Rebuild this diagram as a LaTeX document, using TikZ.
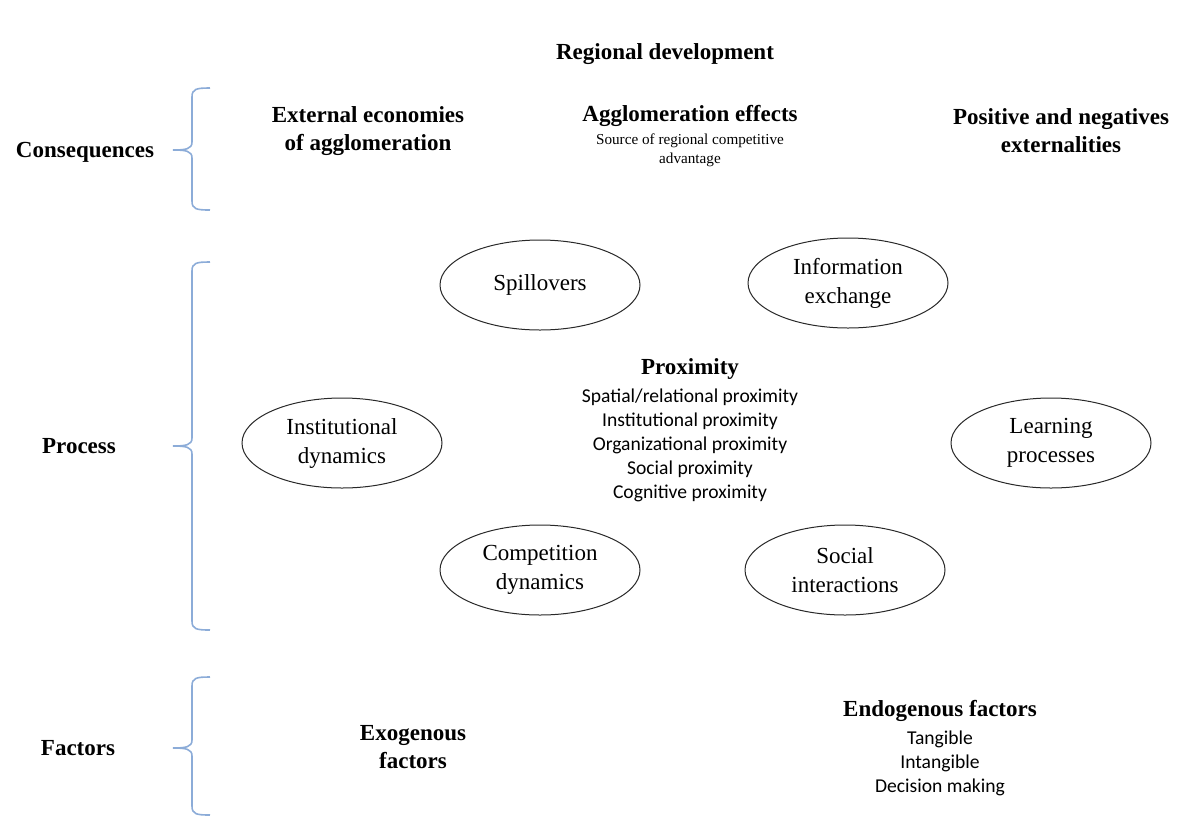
\documentclass[tikz,border=0pt]{standalone}
\usepackage{fontspec}
\setmainfont{Liberation Serif}
\newfontfamily\listfont{Carlito}
\usetikzlibrary{shapes.geometric, positioning}
\definecolor{braceBlue}{RGB}{140, 172, 216}
\definecolor{ovalLine}{RGB}{40, 40, 40}

\begin{document}
\begin{tikzpicture}[x=0.5pt, y=-0.5pt,
  every node/.style={align=center, inner sep=0pt},
  heading/.style={font=\fontsize{11.5}{14}\selectfont\bfseries},
  subnote/.style={font=\fontsize{7.6}{9.5}\selectfont},
  itemlist/.style={font=\listfont\fontsize{9.8}{12}\selectfont},
  oval/.style={draw=ovalLine, line width=0.5pt, ellipse, minimum width=100pt,
    minimum height=45pt, font=\fontsize{11.5}{14.5}\selectfont},
  bracket/.style={draw=braceBlue, line width=0.8pt}]
  \useasboundingbox (0,0) rectangle (1179,816);

  \node[heading] (title) at (665,54) {Regional development};

  \node[heading] (conseq) at (85,152) {Consequences};
  \node[heading] (process) at (79,446) {Process};
  \node[heading] (factors) at (78,748) {Factors};

  \foreach \ytop/\ymid/\ybot in {88/150/210, 262/446/630, 677/748/815} {
    \draw[bracket] (210,\ytop) .. controls (196,\ytop) and (192,\ytop+1) .. (192,\ytop+9)
      -- (192,\ymid-8) .. controls (192,\ymid-1) and (186,\ymid) .. (173,\ymid)
      .. controls (186,\ymid) and (192,\ymid+1) .. (192,\ymid+8)
      -- (192,\ybot-9) .. controls (192,\ybot-1) and (196,\ybot) .. (210,\ybot);
  }

  \node[heading] (external) at (368,131) {External economies\\of agglomeration};
  \node[heading] (agglo) at (690,116) {Agglomeration effects};
  \node[subnote, below=3pt of agglo] (source) {Source of regional competitive\\advantage};
  \node[heading] (extern) at (1061,131) {Positive and negatives\\externalities};

  \node[oval] (spill) at (540,285) {Spillovers};
  \node[oval] (info) at (848,283) {Information\\exchange};
  \node[oval] (inst) at (342,443) {Institutional\\dynamics};
  \node[oval] (learn) at (1051,443) {Learning\\processes};
  \node[oval] (compet) at (540,570) {Competition\\dynamics};
  \node[oval] (social) at (845,570) {Social\\interactions};

  \node[heading] (prox) at (690,369) {Proximity};
  \node[itemlist, below=4.5pt of prox] (proxlist)
    {Spatial/relational proximity\\Institutional proximity\\Organizational proximity\\Social proximity\\Cognitive proximity};

  \node[heading] (exo) at (413,747) {Exogenous\\factors};
  \node[heading] (endo) at (940,711) {Endogenous factors};
  \node[itemlist, below=4pt of endo] (endolist) {Tangible\\Intangible\\Decision making};
\end{tikzpicture}
\end{document}
